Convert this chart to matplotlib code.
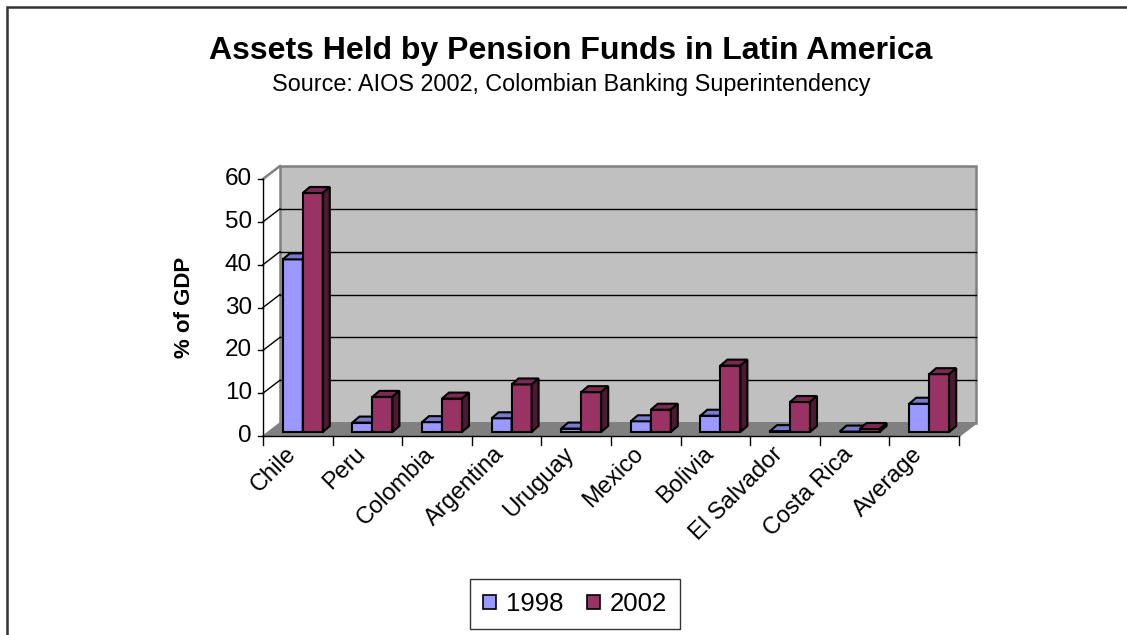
import matplotlib.pyplot as plt
import numpy as np
from matplotlib.patches import Polygon, Patch, Rectangle

plt.rcParams['font.family'] = ['Liberation Sans', 'DejaVu Sans']

# pension fund assets, % of GDP
countries = ["Chile", "Peru", "Colombia", "Argentina", "Uruguay", "Mexico",
             "Bolivia", "El Salvador", "Costa Rica", "Average"]
years = ["1998", "2002"]
assets_1998 = [40.3, 2.2, 2.3, 3.2, 0.8, 2.5, 3.8, 0.2, 0.1, 6.6]
assets_2002 = [55.8, 8.2, 7.8, 11.1, 9.3, 5.2, 15.5, 7.0, 0.7, 13.5]
yticks = [0, 10, 20, 30, 40, 50, 60]

front_col = ["#9999ff", "#993366"]
top_col = ["#7a7acc", "#7a2952"]
side_col = ["#4c4c80", "#4c1933"]

W, H = 1127, 635
fig = plt.figure(figsize=(W / 100, H / 100), dpi=100)

# outer chart border
fig.add_artist(Rectangle((7 / W, -0.1), 1.2, 1.1 - 7 / H, transform=fig.transFigure,
                         fill=False, edgecolor="#333333", lw=1.8))

n = len(countries)
ymax = 60
# axes: x 0..n across the front floor edge, y 0..60 on the front axis
ax = fig.add_axes([263 / W, (H - 436) / H, 696 / W, 257 / H])
ax.set_xlim(0, n)
ax.set_ylim(0, ymax)
ax.axis("off")

px_x = 69.6          # pixels per category
px_y = 257 / ymax    # pixels per unit
DX, DY = 17 / px_x, 13 / px_y        # floor depth
ddx, ddy = 5 / px_x, 4 / px_y        # bar plane offset
bdx, bdy = 7 / px_x, 6 / px_y        # bar depth
bw = 20 / px_x
start = (1 - 2 * bw) / 2

def poly(pts, fc, ec="black", lw=1.5, z=1):
    ax.add_patch(Polygon(pts, closed=True, facecolor=fc, edgecolor=ec, lw=lw,
                         zorder=z, clip_on=False, joinstyle="miter"))

# back wall and floor
poly([(DX, DY), (n + DX, DY), (n + DX, ymax + DY), (DX, ymax + DY)], "#c0c0c0",
     ec="#808080", lw=1.8, z=1)
poly([(0, 0), (n, 0), (n + DX, DY), (DX, DY)], "#808080", ec="#808080", lw=1, z=1)

# gridlines on back wall and left side
for v in yticks[1:-1]:
    ax.plot([DX, n + DX], [v + DY, v + DY], color="black", lw=1, zorder=2, clip_on=False)
    ax.plot([0, DX], [v, v + DY], color="black", lw=1, zorder=2, clip_on=False)
ax.plot([0, DX], [ymax, ymax + DY], color="#808080", lw=1.8, zorder=2, clip_on=False)

# front axes
ax.plot([0, 0], [0, ymax], color="black", lw=1, zorder=3, clip_on=False)
ax.plot([0, n], [0, 0], color="black", lw=1, zorder=3, clip_on=False)
ax.plot([n, n + DX], [0, DY], color="#808080", lw=1.5, zorder=3, clip_on=False)
tick_len_y = 5 / px_x
tick_len_x = 9 / px_y
for v in yticks:
    ax.plot([-tick_len_y, 0], [v, v], color="black", lw=1, zorder=3, clip_on=False)
    ax.text(-11 / px_x, v, str(v), ha="right", va="center", fontsize=17.5)
for i in range(n + 1):
    ax.plot([i, i], [0, -tick_len_x], color="black", lw=1, zorder=3, clip_on=False)

# bars
series = [assets_1998, assets_2002]
for i in range(n):
    for s, vals in enumerate(series):
        v = vals[i]
        x0 = i + start + s * bw + ddx
        x1 = x0 + bw
        y0, y1 = ddy, ddy + v
        z = 4 + s
        poly([(x0, y0), (x1, y0), (x1, y1), (x0, y1)], front_col[s], z=z)
        poly([(x0, y1), (x1, y1), (x1 + bdx, y1 + bdy), (x0 + bdx, y1 + bdy)], top_col[s], z=z)
        poly([(x1, y0), (x1 + bdx, y0 + bdy), (x1 + bdx, y1 + bdy), (x1, y1)], side_col[s], z=z)

# category labels
for i, name in enumerate(countries):
    ax.text(i + 0.31, -7 / px_y, name, rotation=45, ha="right", va="top",
            rotation_mode="anchor", fontsize=17)

ax.text(-78 / px_x, ymax / 2, "% of GDP", rotation=90, ha="center", va="center",
        fontsize=16, fontweight="bold")

fig.text(571 / W, 1 - 51 / H, "Assets Held by Pension Funds in Latin America",
         ha="center", va="center", fontsize=23, fontweight="bold")
fig.text(571 / W, 1 - 85 / H, "Source: AIOS 2002, Colombian Banking Superintendency",
         ha="center", va="center", fontsize=16.8)

handles = [Patch(facecolor=front_col[k], edgecolor="black", lw=1.2, label=years[k])
           for k in range(2)]
leg = fig.legend(handles=handles, loc="center", bbox_to_anchor=(575 / W, 1 - 604 / H),
                 ncol=2, fontsize=18.5, frameon=True, fancybox=False, handlelength=0.5,
                 handleheight=0.5, handletextpad=0.4, columnspacing=0.9,
                 borderpad=0.5)
leg.get_frame().set_edgecolor("black")
leg.get_frame().set_linewidth(1)

fig.savefig("out.png", dpi=100)
